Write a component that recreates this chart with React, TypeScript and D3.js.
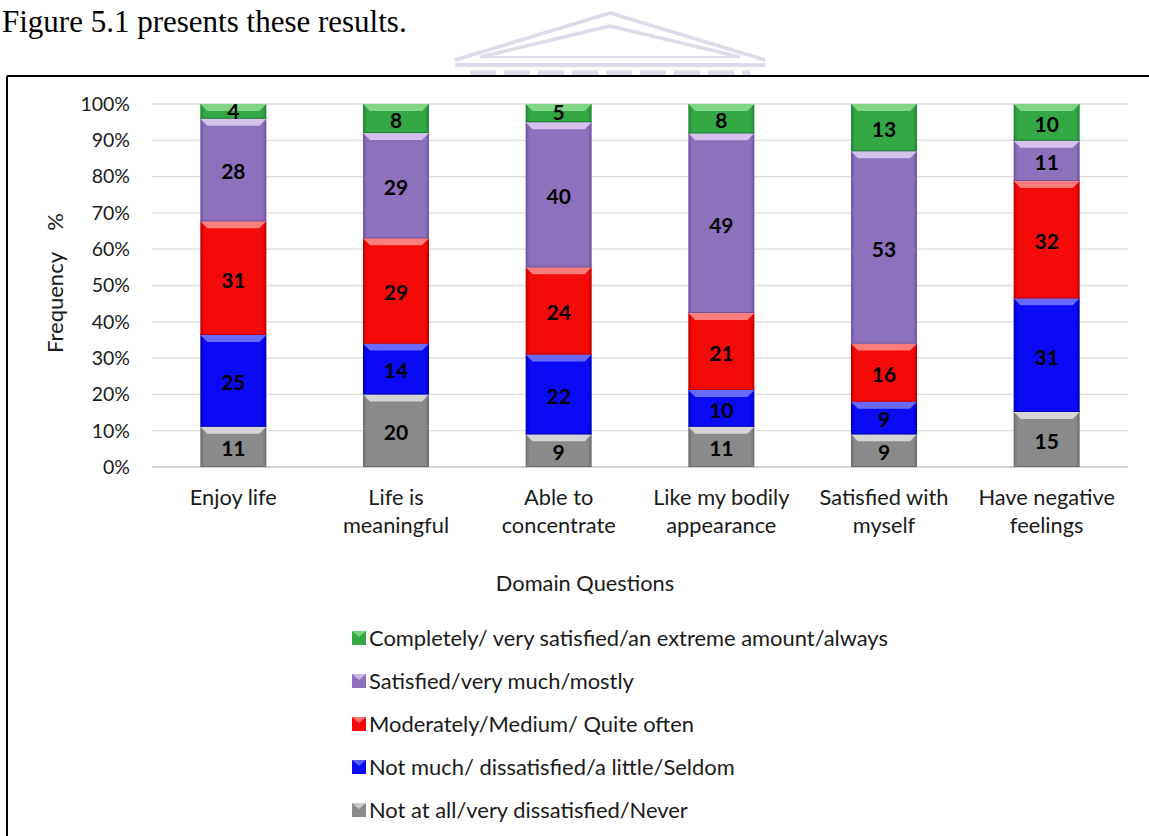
import React from "react";
import * as d3 from "d3";

const categories = [
  "Enjoy life",
  "Life is meaningful",
  "Able to concentrate",
  "Like my bodily appearance",
  "Satisfied with myself",
  "Have negative feelings",
];
const categoryLines = [
  ["Enjoy life"],
  ["Life is", "meaningful"],
  ["Able to", "concentrate"],
  ["Like my bodily", "appearance"],
  ["Satisfied with", "myself"],
  ["Have negative", "feelings"],
];
const seriesNames = [
  "Not at all/very dissatisfied/Never",
  "Not much/ dissatisfied/a little/Seldom",
  "Moderately/Medium/ Quite often",
  "Satisfied/very much/mostly",
  "Completely/ very satisfied/an extreme amount/always",
];
const notAtAll = [11, 20, 9, 11, 9, 15];
const notMuch = [25, 14, 22, 10, 9, 31];
const moderately = [31, 29, 24, 21, 16, 32];
const satisfied = [28, 29, 40, 49, 53, 11];
const completely = [4, 8, 5, 8, 13, 10];
const yTicks = [0, 0.1, 0.2, 0.3, 0.4, 0.5, 0.6, 0.7, 0.8, 0.9, 1];

const seriesValues = [notAtAll, notMuch, moderately, satisfied, completely];
const colors = ["#8a8a8a", "#0a0af5", "#f50a0a", "#8e71bd", "#35a846"];
const bevels = ["#dcdcdc", "#7373ff", "#ff8a8a", "#dccbf2", "#8bdc8e"];
const darks = ["#6c6c6c", "#0000b8", "#c00000", "#6e559a", "#24823a"];

const font = "Lato, Calibri, 'Open Sans', sans-serif";

export default function App() {
  const W = 1149;
  const H = 836;
  const x = d3.scaleBand<string>().domain(categories).range([152, 1128]).paddingInner(0.594).paddingOuter(0.297);
  const y = d3.scaleLinear().domain([0, 1]).range([467, 104]);

  const table = categories.map((c, i) => {
    const row: any = { cat: c };
    seriesNames.forEach((s, j) => (row[s] = seriesValues[j][i]));
    return row;
  });
  const stack = d3.stack<any>().keys(seriesNames).offset(d3.stackOffsetExpand);
  const layers = stack(table);
  const bw = x.bandwidth();

  return (
    <svg width={W} height={H} style={{ position: "absolute", left: 0, top: 0, background: "#fff" }}>
      <defs>
        {colors.map((c, i) => (
          <linearGradient key={i} id={`g${i}`} x1="0" x2="1" y1="0" y2="0">
            <stop offset="0" stopColor={darks[i]} />
            <stop offset="0.06" stopColor={c} />
            <stop offset="0.94" stopColor={c} />
            <stop offset="1" stopColor={darks[i]} />
          </linearGradient>
        ))}
      </defs>
      <rect x={0} y={0} width={W} height={H} fill="#fff" />
      <text x={2} y={32} fontFamily="'Liberation Serif', 'Times New Roman', serif" fontSize={31} fill="#000">
        Figure 5.1 presents these results.
      </text>
      {/* watermark */}
      <g fill="none" stroke="#dcdcea" strokeWidth={3.5} strokeLinejoin="round">
        <polyline points="455,60 610,13 765,60" />
        <polyline points="480,57 610,26 740,57" />
        <line x1="480" y1="57" x2="740" y2="57" strokeWidth={2} />
        <line x1="455" y1="65" x2="765" y2="65" strokeWidth={4} />
        <line x1="470" y1="73" x2="750" y2="73" strokeWidth={5} strokeDasharray="26,8" />
      </g>
      {/* frame */}
      <line x1={7} y1={76} x2={W} y2={76} stroke="#000" strokeWidth={2} />
      <line x1={7} y1={76} x2={7} y2={H} stroke="#000" strokeWidth={2} />

      {/* gridlines */}
      {yTicks.map((t) => (
        <line key={t} x1={152} x2={1128} y1={y(t)} y2={y(t)} stroke={t === 0 ? "#d0d0d0" : "#dddddd"} strokeWidth={t === 0 ? 2 : 1.3} />
      ))}
      {yTicks.map((t) => (
        <text key={"l" + t} x={130} y={y(t)} dy="0.35em" textAnchor="end" fontFamily={font} fontSize={19.5} fill="#1a1a1a">
          {d3.format(".0%")(t)}
        </text>
      ))}
      <text transform={`translate(63,353) rotate(-90)`} textAnchor="start" fontFamily={font} fontSize={22} fill="#1a1a1a">
        Frequency
      </text>
      <text transform={`translate(63,213) rotate(-90)`} textAnchor="end" fontFamily={font} fontSize={22} fill="#1a1a1a">
        %
      </text>

      {/* bars */}
      {layers.map((layer, li) =>
        layer.map((d, i) => {
          const x0 = x(categories[i])!;
          const yt = y(d[1]);
          const yb = y(d[0]);
          const h = yb - yt;
          const bev = Math.min(7, h / 2);
          return (
            <g key={`${li}-${i}`}>
              <rect x={x0} y={yt} width={bw} height={h} fill={`url(#g${li})`} />
              <polygon
                points={`${x0},${yt} ${x0 + bw},${yt} ${x0 + bw - bev},${yt + bev} ${x0 + bev},${yt + bev}`}
                fill={bevels[li]}
                opacity={0.9}
              />
              <line x1={x0} x2={x0 + bw} y1={yb - 0.5} y2={yb - 0.5} stroke={darks[li]} strokeWidth={1} />
              <text
                x={x0 + bw / 2}
                y={(yt + yb) / 2 + (li === 4 && h < 20 ? 0 : 2)}
                dy="0.35em"
                textAnchor="middle"
                fontFamily={font}
                fontWeight="bold"
                fontSize={21}
                fill="#000"
              >
                {seriesValues[li][i]}
              </text>
            </g>
          );
        })
      )}

      {/* category labels */}
      {categoryLines.map((lines, i) => (
        <text key={i} x={x(categories[i])! + bw / 2} y={505} textAnchor="middle" fontFamily={font} fontSize={21.8} fill="#1a1a1a">
          {lines.map((l, k) => (
            <tspan key={k} x={x(categories[i])! + bw / 2} dy={k === 0 ? 0 : 28}>
              {l}
            </tspan>
          ))}
        </text>
      ))}
      <text x={585} y={591} textAnchor="middle" fontFamily={font} fontSize={21.8} fill="#1a1a1a">
        Domain Questions
      </text>

      {/* legend */}
      {[4, 3, 2, 1, 0].map((si, k) => {
        const ly = 638 + k * 43;
        return (
          <g key={si}>
            <rect x={352} y={ly - 7} width={14} height={14} fill={colors[si]} />
            <polygon points={`${352},${ly - 7} ${366},${ly - 7} ${359},${ly - 1}`} fill={bevels[si]} opacity={0.8} />
            <text x={369} y={ly} dy="0.35em" fontFamily={font} fontSize={21.9} fill="#1a1a1a">
              {seriesNames[si]}
            </text>
          </g>
        );
      })}
    </svg>
  );
}
